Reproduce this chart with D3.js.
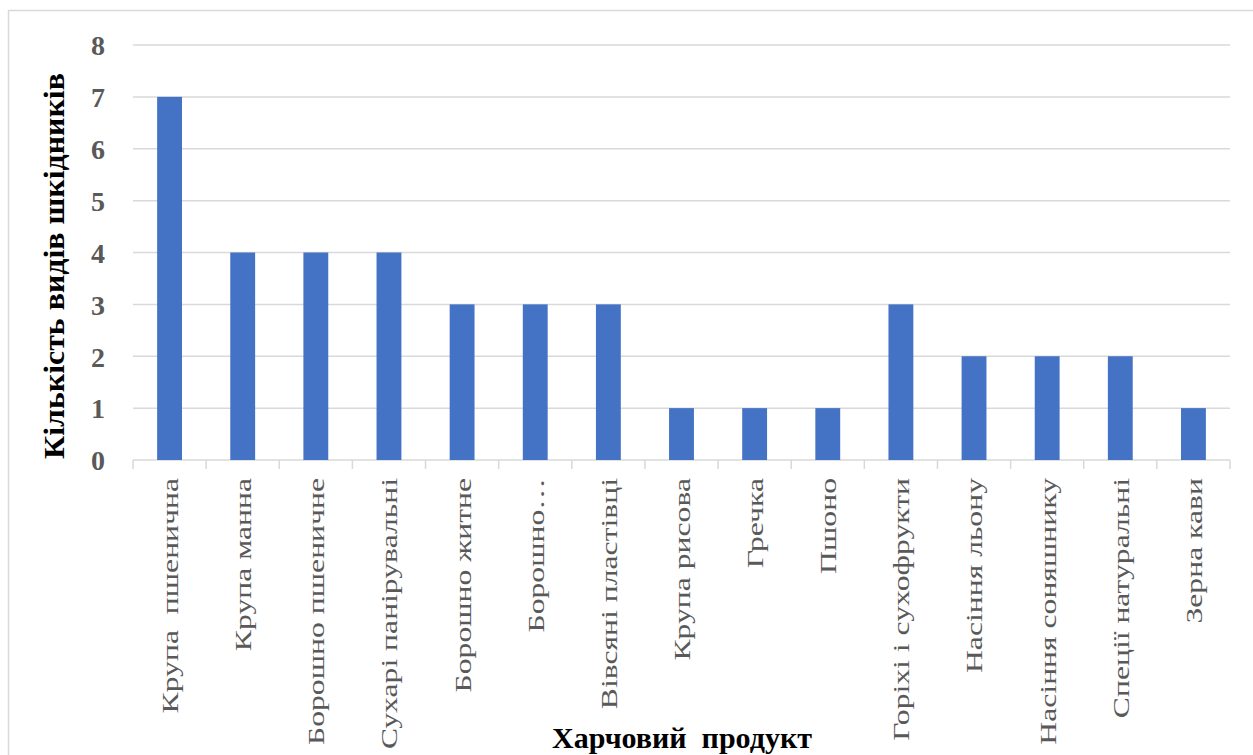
<!DOCTYPE html>
<html>
<head>
<meta charset="utf-8">
<script src="https://cdn.jsdelivr.net/npm/d3@7"></script>
<style>
  body { margin: 0; background: #fff; }
  svg { display: block; }
</style>
</head>
<body>
<svg id="chart"></svg>
<script>
// data
const categories = [
  "Крупа  пшенична", "Крупа манна", "Борошно пшеничне", "Сухарі панірувальні",
  "Борошно житне", "Борошно…", "Вівсяні пластівці", "Крупа рисова", "Гречка",
  "Пшоно", "Горіхі і сухофрукти", "Насіння льону", "Насіння соняшнику",
  "Спеції натуральні", "Зерна кави"
];
const pestCounts = [7, 4, 4, 4, 3, 3, 3, 1, 1, 1, 3, 2, 2, 2, 1];
const yTicks = [0, 1, 2, 3, 4, 5, 6, 7, 8];

const serif = '"Liberation Serif", "Times New Roman", serif';

const chart = {
  width: 1253,
  height: 755,
  padding: { left: 133, right: 23, top: 45, bottom: 295 },
  xScale: null,
  yScale: null,

  drawFrame: (svg) => {
    svg.append('rect')
      .attr('x', 8.5).attr('y', 10.5)
      .attr('width', 1300).attr('height', 800)
      .attr('fill', 'none')
      .attr('stroke', '#d9d9d9')
      .attr('stroke-width', 1.5);
  },

  drawAxis: (svg) => {
    const p = chart.padding;
    chart.xScale = d3.scaleBand()
      .domain(categories)
      .range([p.left, chart.width - p.right])
      .paddingInner(0.66)
      .paddingOuter(0.33);

    chart.yScale = d3.scaleLinear()
      .domain([0, 8])
      .range([chart.height - p.bottom, p.top]);

    // gridlines
    svg.append('g')
      .selectAll('line')
      .data(yTicks.filter(d => d > 0))
      .join('line')
      .attr('x1', p.left).attr('x2', chart.width - p.right)
      .attr('y1', d => chart.yScale(d)).attr('y2', d => chart.yScale(d))
      .attr('stroke', '#d9d9d9')
      .attr('stroke-width', 1.5);

    // y axis labels
    const axisY = d3.axisLeft(chart.yScale)
      .tickValues(yTicks)
      .tickSize(0)
      .tickPadding(28)
      .tickFormat(d => d);
    const gy = svg.append('g')
      .attr('transform', `translate(${p.left}, 0)`)
      .call(axisY)
      .attr('font-family', serif);
    gy.select('.domain').remove();
    gy.selectAll('text')
      .attr('font-size', 28)
      .attr('font-weight', 'bold')
      .attr('fill', '#595959')
      .attr('dy', '0.35em');

    // x axis with category ticks at the band edges
    const y0 = chart.yScale(0);
    const gx = svg.append('g').attr('font-family', serif);
    gx.append('line')
      .attr('x1', p.left).attr('x2', chart.width - p.right)
      .attr('y1', y0).attr('y2', y0)
      .attr('stroke', '#d9d9d9').attr('stroke-width', 1.5);
    const edges = d3.range(categories.length + 1).map(i => p.left + i * chart.xScale.step());
    gx.selectAll('.tk')
      .data(edges)
      .join('line')
      .attr('class', 'tk')
      .attr('x1', d => d).attr('x2', d => d)
      .attr('y1', y0).attr('y2', y0 + 9)
      .attr('stroke', '#d9d9d9').attr('stroke-width', 1.5);

    // labels look stretched along their length in the original
    gx.selectAll('.lbl')
      .data(categories)
      .join('text')
      .attr('class', 'lbl')
      .attr('transform', d => `translate(${chart.xScale(d) + chart.xScale.bandwidth() / 2}, ${y0 + 18}) rotate(-90) scale(1.32, 1)`)
      .attr('text-anchor', 'end')
      .attr('dy', '0.35em')
      .attr('font-size', 24)
      .attr('fill', '#595959')
      .style('white-space', 'pre')
      .text(d => d);

    // axis titles
    svg.append('text')
      .attr('x', 682).attr('y', 748)
      .attr('text-anchor', 'middle')
      .attr('font-family', serif)
      .attr('font-size', 30)
      .attr('font-weight', 'bold')
      .attr('fill', '#000')
      .style('white-space', 'pre')
      .text('Харчовий  продукт');

    svg.append('text')
      .attr('transform', `translate(64, 266) rotate(-90) scale(1.1, 1)`)
      .attr('text-anchor', 'middle')
      .attr('font-family', serif)
      .attr('font-size', 29)
      .attr('font-weight', 'bold')
      .attr('fill', '#000')
      .text('Кількість видів шкідників');
  },

  drawBars: (svg) => {
    svg.append('g')
      .selectAll('rect')
      .data(categories.map((c, i) => ({ name: c, value: pestCounts[i] })))
      .join('rect')
      .attr('x', d => chart.xScale(d.name))
      .attr('width', chart.xScale.bandwidth())
      .attr('y', d => chart.yScale(d.value))
      .attr('height', d => chart.yScale(0) - chart.yScale(d.value))
      .attr('fill', '#4472c4');
  },

  drawMain: () => {
    const svg = d3.select('#chart')
      .attr('width', chart.width)
      .attr('height', chart.height);
    chart.drawFrame(svg);
    chart.drawAxis(svg);
    chart.drawBars(svg);
  }
};

chart.drawMain();
</script>
</body>
</html>
